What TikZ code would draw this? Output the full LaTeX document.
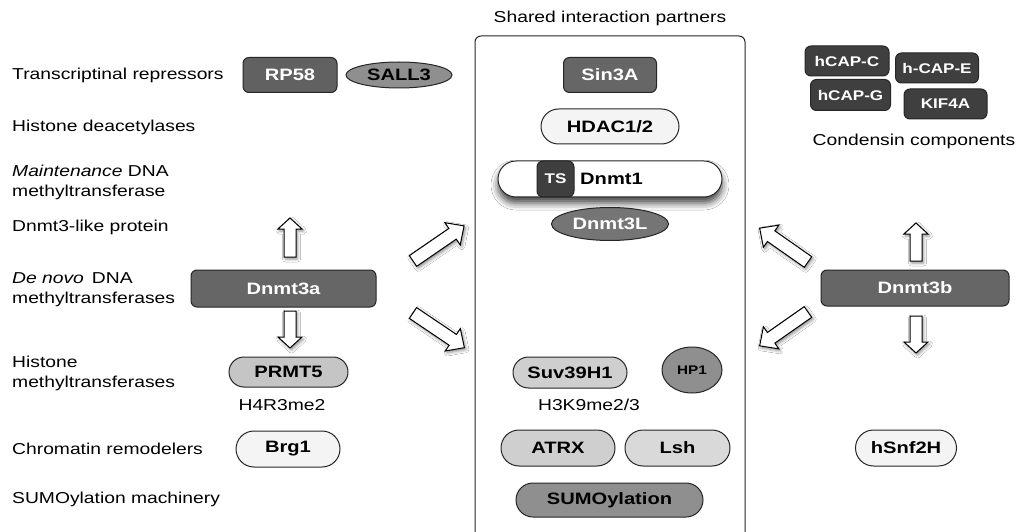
\documentclass[tikz,border=0pt]{standalone}
\usepackage{fontspec}
\setmainfont[FakeStretch=1.22]{Liberation Sans}
\usetikzlibrary{shapes.geometric,shapes.misc,shadows.blur}
\definecolor{cdark}{HTML}{3F3F3F}
\definecolor{cmid}{HTML}{666666}
\definecolor{cgray}{HTML}{8F8F8F}
\definecolor{clight}{HTML}{CFCFCF}
\definecolor{cwhite}{HTML}{F4F4F4}
\tikzset{
  lbl/.style={anchor=west, align=left, inner sep=0pt, font=\fontsize{15.8}{20}\selectfont},
  txt/.style={inner sep=0pt, font=\fontsize{15.8}{20}\selectfont},
  box/.style={draw=black!85, line width=1pt, rectangle, rounded corners=6pt, inner sep=0pt,
    font=\fontsize{16.5}{20}\selectfont\bfseries},
  pill/.style={draw=black!85, line width=1pt, rounded rectangle, inner sep=0pt,
    font=\fontsize{16.5}{20}\selectfont\bfseries},
  oval/.style={draw=black!85, line width=1pt, ellipse, inner sep=0pt,
    font=\fontsize{16.5}{20}\selectfont\bfseries},
  cond/.style={box, fill=cdark, text=white, minimum height=30pt, font=\fontsize{14}{16}\selectfont\bfseries},
  blockarrow/.style={draw=black, line width=1pt, fill=white, line join=miter,
    blur shadow={shadow xshift=1.5pt, shadow yshift=-2pt, shadow blur radius=3pt, shadow opacity=45}},
  pics/barrow/.style n args={4}{code={
    \draw[blockarrow] (0,-#2) -- ({#1-#4},-#2) -- ({#1-#4},-#3) -- (#1,0) -- ({#1-#4},#3) -- ({#1-#4},#2) -- (0,#2) -- cycle;}}
}
\begin{document}
\begin{tikzpicture}[x=1pt,y=-1pt]
\useasboundingbox (0,0) rectangle (1018,532);
\fill[white] (0,0) rectangle (1018,532);

% left labels
\node[lbl] (l1) at (12,75) {Transcriptinal repressors};
\node[lbl] (l2) at (12,127) {Histone deacetylases};
\node[lbl] (l3) at (12,182) {\textit{Maintenance} DNA\\methyltransferase};
\node[lbl] (l4) at (12,227) {Dnmt3-like protein};
\node[lbl] (l5) at (12,290) {\textit{De novo}\, DNA\\methyltransferases};
\node[lbl] (l6) at (12,373) {Histone\\methyltransferases};
\node[lbl] (l7) at (12,449) {Chromatin remodelers};
\node[lbl] (l8) at (12,499) {SUMOylation machinery};

% central box
\node[txt] (title) at (610,18) {Shared interaction partners};
\draw[line width=1pt, draw=black!85, rounded corners=6pt] (475,545) -- (475,36) -- (745,36) -- (745,545);

% row 1
\node[box, fill=cmid!95!black, text=white, minimum width=94pt, minimum height=35pt] (rp58) at (290,75) {RP58};
\node[oval, fill=cgray, minimum width=106pt, minimum height=26pt] (sall3) at (399,75) {SALL3};
\node[box, fill=cmid, text=white, minimum width=93pt, minimum height=35pt] (sin3a) at (610,75) {Sin3A};

% condensin
\node[cond, minimum width=84pt] (capc) at (847,61) {hCAP-C};
\node[cond, minimum width=83pt] (cape) at (937,68) {h-CAP-E};
\node[cond, minimum width=80pt, minimum height=31pt] (capg) at (850.5,95) {hCAP-G};
\node[cond, minimum width=83pt] (kif) at (945.5,104) {KIF4A};
\node[txt] (condlbl) at (914,141) {Condensin components};

% HDAC, Dnmt1, Dnmt3L
\node[pill, fill=cwhite, minimum width=138pt, minimum height=35pt] (hdac) at (610,126.5) {HDAC1/2};
\node[pill, fill=white, minimum width=224pt, minimum height=36pt,
  blur shadow={shadow xshift=0pt, shadow yshift=-6pt, shadow blur radius=7pt, shadow opacity=75}] (dnmt1) at (610,179) {};
\node[box, fill=cdark, text=white, minimum width=37pt, minimum height=36pt, font=\fontsize{14}{16}\selectfont\bfseries] (ts) at (555.5,179) {TS};
\node[anchor=west, inner sep=0pt, font=\fontsize{16.5}{20}\selectfont\bfseries] (dnmt1t) at (580,179) {Dnmt1};
\node[oval, fill=cmid!90!white, text=white, minimum width=117pt, minimum height=33pt] (dnmt3l) at (610,224) {Dnmt3L};

% Dnmt3a / Dnmt3b
\node[box, fill=cmid, text=white, minimum width=185pt, minimum height=37pt] (dnmt3a) at (283.5,288.5) {Dnmt3a};
\node[box, fill=cmid, text=white, minimum width=188pt, minimum height=36pt] (dnmt3b) at (915,288) {Dnmt3b};

% block arrows
\pic[rotate=90] at (290,257) {barrow={39}{6}{12}{11}};
\pic[rotate=-90] at (290,311) {barrow={37}{6}{12}{11}};
\pic[rotate=34.5] at (413,261) {barrow={62}{6.5}{13.5}{14}};
\pic[rotate=-34] at (413,313) {barrow={62}{6.5}{13.5}{14}};
\pic[rotate=145] at (808,262) {barrow={59}{6.5}{13.5}{14}};
\pic[rotate=215] at (808,312) {barrow={59}{6.5}{13.5}{14}};
\pic[rotate=90] at (916,261) {barrow={38}{6}{12}{11}};
\pic[rotate=-90] at (916,316) {barrow={37}{6}{12}{11}};

% histone methyltransferases row
\node[pill, fill=clight!95!black, minimum width=119pt, minimum height=30pt] (prmt5) at (288.5,372) {PRMT5};
\node[txt] (h4) at (282,405) {H4R3me2};
\node[pill, fill=clight, minimum width=114pt, minimum height=31pt] (suv) at (570,372.5) {Suv39H1};
\node[oval, fill=cgray, minimum width=60pt, minimum height=46pt, font=\fontsize{12.5}{14}\selectfont\bfseries] (hp1) at (692,370) {HP1};
\node[txt] (h3) at (589,405) {H3K9me2/3};

% chromatin remodelers
\node[pill, fill=cwhite, minimum width=104pt, minimum height=36pt] (brg1) at (288,449) {Brg1};
\node[pill, fill=clight, minimum width=114pt, minimum height=36pt] (atrx) at (558,448) {ATRX};
\node[pill, fill=clight!80!white, minimum width=105pt, minimum height=36pt] (lsh) at (677.5,448) {Lsh};
\node[pill, fill=cwhite, minimum width=101pt, minimum height=36pt] (hsnf) at (906,448) {hSnf2H};

% SUMOylation
\node[pill, fill=cgray, minimum width=187pt, minimum height=34pt] (sumo) at (609.5,500) {SUMOylation};
\end{tikzpicture}
\end{document}
